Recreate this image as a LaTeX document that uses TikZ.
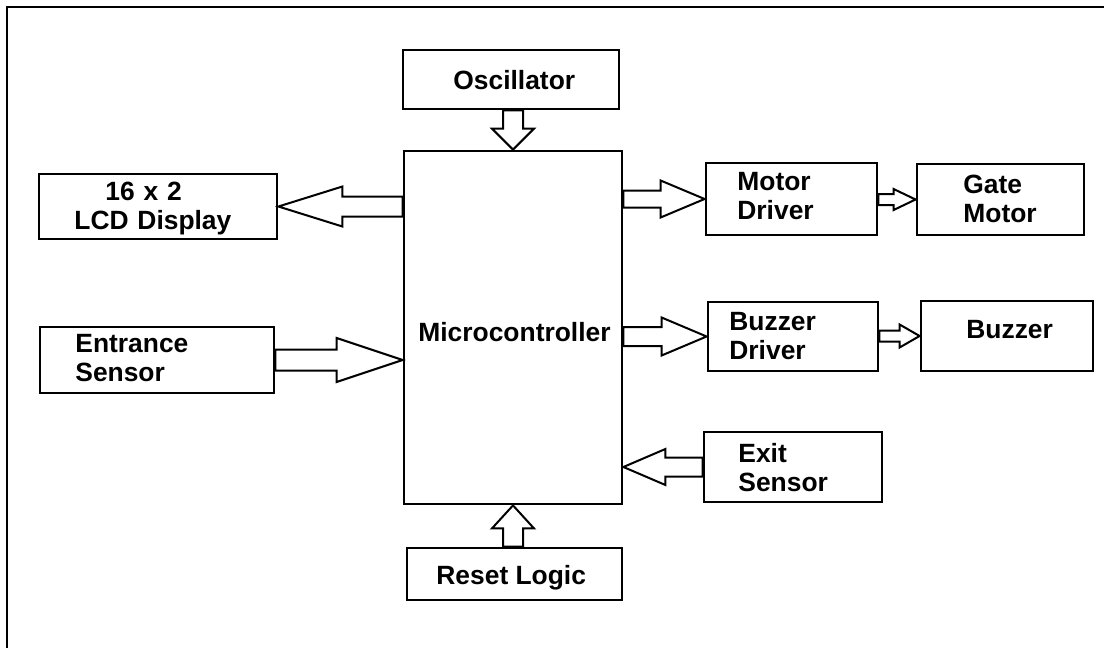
\documentclass[tikz,border=0pt]{standalone}
\usepackage{fontspec}
\setmainfont{Liberation Sans}
\usepackage{tikz}
\usetikzlibrary{calc}

\tikzset{
  blk/.style={draw, line width=1.4pt, inner sep=0pt},
  flow/.style={draw, line width=1pt, fill=white, line join=miter},
  txt/.style={inner sep=0pt, anchor=base west, font=\bfseries\fontsize{13.2pt}{14.5pt}\selectfont},
  txttwo/.style={txt, text width=90pt, align=left}
}
\newcommand{\hflow}[5]{%
  \draw[flow] let \p1=(#1), \p2=(#2), \n1={ifthenelse(\x2>\x1,1,-1)} in
    (\x1,\y2+#3) -- (\x2-\n1*#5,\y2+#3) -- (\x2-\n1*#5,\y2+#4) -- (\p2)
    -- (\x2-\n1*#5,\y2-#4) -- (\x2-\n1*#5,\y2-#3) -- (\x1,\y2-#3) -- cycle;}
\newcommand{\vflow}[5]{%
  \draw[flow] let \p1=(#1), \p2=(#2), \n1={ifthenelse(\y2>\y1,1,-1)} in
    (\x2+#3,\y1) -- (\x2+#3,\y2-\n1*#5) -- (\x2+#4,\y2-\n1*#5) -- (\p2)
    -- (\x2-#4,\y2-\n1*#5) -- (\x2-#3,\y2-\n1*#5) -- (\x2-#3,\y1) -- cycle;}

\begin{document}
\begin{tikzpicture}[x=0.5pt,y=-0.5pt]
\useasboundingbox (0,0) rectangle (1104,648);
\draw[line width=1pt] (7,648) -- (7,7) -- (1104,7);

\node[blk, minimum width=108pt, minimum height=29.5pt] (osc) at (511,79.5) {};
\node[blk, minimum width=109pt, minimum height=176.5pt] (micro) at (513,327.5) {};
\node[blk, minimum width=119pt, minimum height=32.5pt] (lcd) at (158,206.5) {};
\node[blk, minimum width=117pt, minimum height=33pt] (entr) at (157,360) {};
\node[blk, minimum width=85.5pt, minimum height=36pt] (motdrv) at (791.5,199) {};
\node[blk, minimum width=83.5pt, minimum height=35.5pt] (gate) at (1000.5,199.5) {};
\node[blk, minimum width=85pt, minimum height=34.5pt] (buzdrv) at (793,336.5) {};
\node[blk, minimum width=86pt, minimum height=35pt] (buzz) at (1007,336) {};
\node[blk, minimum width=89pt, minimum height=35pt] (exit) at (793,467) {};
\node[blk, minimum width=107.5pt, minimum height=26pt] (reset) at (514.5,574) {};

\node[txt] (osctxt) at (453,90) {Oscillator};
\node[txt] (microtxt) at (418,341) {Microcontroller};
\node[txttwo] (lcdtxt) at (74,200) {\hspace*{15.5pt}16 x 2\\LCD Display};
\node[txttwo] (entrtxt) at (75,352) {Entrance\\Sensor};
\node[txttwo] (motdrvtxt) at (737,190) {Motor\\Driver};
\node[txttwo] (gatetxt) at (963,193) {Gate\\Motor};
\node[txttwo] (buzdrvtxt) at (729,330) {Buzzer\\Driver};
\node[txt] (buzztxt) at (966,338) {Buzzer};
\node[txttwo] (exittxt) at (738,462) {Exit\\Sensor};
\node[txt] (resettxt) at (436,584) {Reset Logic};

\vflow{osc.south}{micro.north}{5pt}{10.5pt}{10.5pt}
\vflow{reset.north}{micro.south}{5pt}{10.5pt}{11.5pt}
\hflow{micro.west |- lcd.east}{lcd.east}{5pt}{10pt}{32pt}
\hflow{entr.east}{micro.west |- entr.east}{5.25pt}{11pt}{33pt}
\hflow{micro.east |- motdrv.west}{motdrv.west}{4.25pt}{9.25pt}{22pt}
\hflow{motdrv.east |- gate.west}{gate.west}{2.75pt}{5.25pt}{11pt}
\hflow{micro.east |- buzdrv.west}{buzdrv.west}{4.75pt}{9.5pt}{22.5pt}
\hflow{buzdrv.east |- buzz.west}{buzz.west}{2.75pt}{5.75pt}{10pt}
\hflow{exit.west}{micro.east |- exit.west}{4.75pt}{9pt}{21pt}
\end{tikzpicture}
\end{document}
